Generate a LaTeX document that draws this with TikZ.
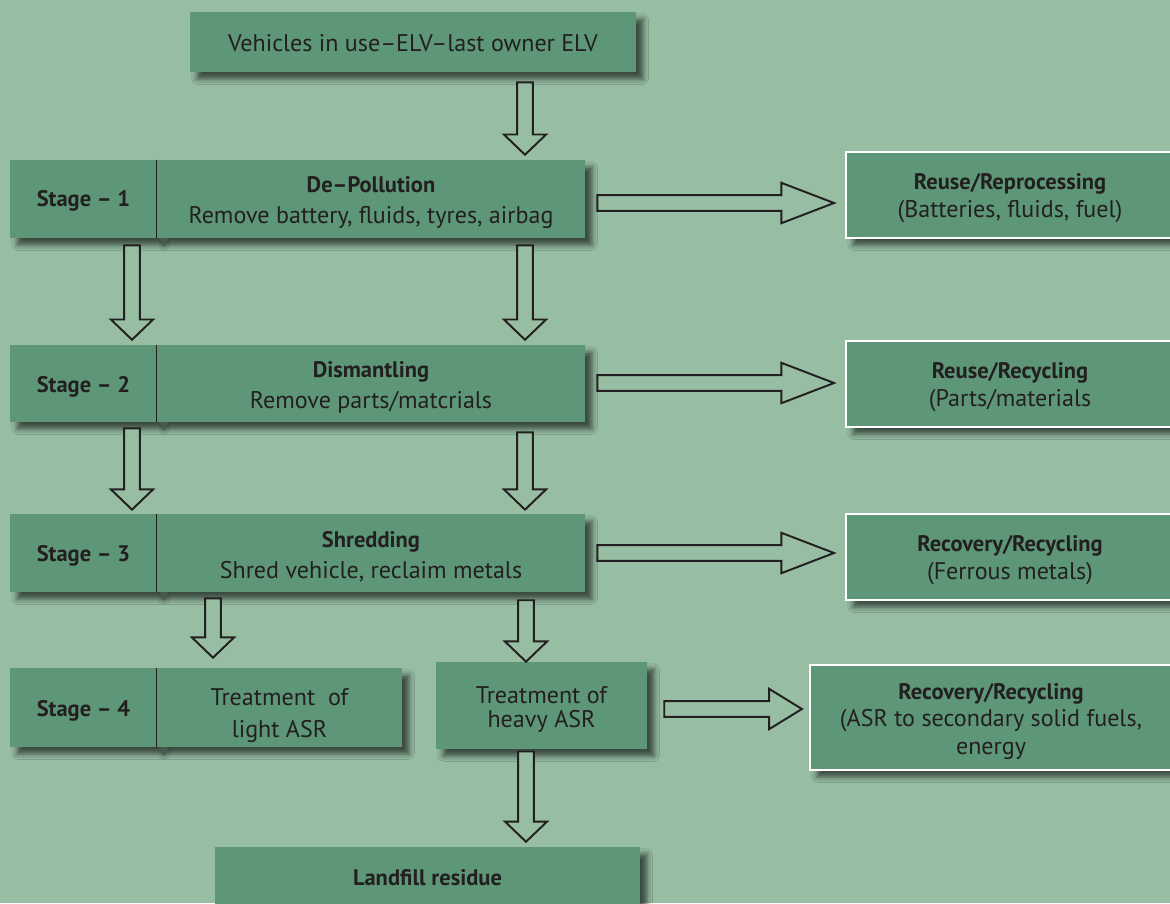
\documentclass[tikz,border=0pt]{standalone}
\usepackage{fontspec}
\setmainfont{PT Sans}
\usetikzlibrary{calc,shadows.blur}
\definecolor{bg}{RGB}{151,189,163}
\definecolor{boxg}{RGB}{93,151,119}
\definecolor{ink}{RGB}{35,31,32}
\newcommand\hd[1]{{\bfseries\fontsize{12.8}{17.5}\selectfont #1}}
\tikzset{
  box/.style={fill=boxg, inner sep=0pt,
    blur shadow={shadow xshift=4pt, shadow yshift=-4pt, shadow blur radius=3pt, shadow opacity=60}},
  rbox/.style={box, draw=white, line width=1.2pt},
  lbl/.style={text=ink, inner sep=0pt, align=center,
    font=\fontsize{13.7}{17.5}\selectfont},
  barrow/.style={draw=ink, line width=1.1pt, line join=miter, fill=bg},
  divider/.style={draw=ink, line width=0.6pt},
}
% \pbox[style]{name}{x1}{y1}{x2}{y2}{text y offset px}{text}  (pixel coordinates)
\newcommand\pbox[8][box]{%
  \node[#1, minimum width={(#5-#3)*0.02cm}, minimum height={(#6-#4)*0.02cm}]
    (#2) at ({(#3+#5)/2},{(#4+#6)/2}) {};
  \node[lbl] (#2t) at ($(#2.center)+(0,#7)$) {#8};}
% vertical block arrow: from node #1 to node #2 at x=#3 px, gaps #4 #5
\newcommand\varrowblk[5]{%
  \draw[barrow] let \p1=(#1.south), \p2=(#2.north), \p3=(#3,0) in
    (\x3-4.5pt,\y1-#4) -- (\x3+4.5pt,\y1-#4) -- (\x3+4.5pt,\y2+#5+11.5pt)
    -- (\x3+12pt,\y2+#5+11.5pt) -- (\x3,\y2+#5) -- (\x3-12pt,\y2+#5+11.5pt)
    -- (\x3-4.5pt,\y2+#5+11.5pt) -- cycle;}
% horizontal block arrow: from node #1 to node #2 at y=#3 px, gaps #4 #5, head length #6
\newcommand\harrowblk[6]{%
  \draw[barrow] let \p1=(#1.east), \p2=(#2.west), \p3=(0,#3) in
    (\x1+#4,\y3+4.5pt) -- (\x2-#5-#6,\y3+4.5pt) -- (\x2-#5-#6,\y3+11.5pt)
    -- (\x2-#5,\y3) -- (\x2-#5-#6,\y3-11.5pt) -- (\x2-#5-#6,\y3-4.5pt)
    -- (\x1+#4,\y3-4.5pt) -- cycle;}
\begin{document}
\begin{tikzpicture}[x=0.02cm,y=-0.02cm]
\fill[bg] (0,0) rectangle (1170,903);
\useasboundingbox (0,0) rectangle (1170,903);
\clip (0,0) rectangle (1170,903);

\pbox{top}{190}{12}{636}{72}{1.5}{Vehicles in use–ELV–last owner ELV}

\pbox{st1}{10}{160}{157}{238}{2}{\hd{Stage – 1}}
\pbox{p1}{157}{160}{585}{238}{3.5}{\hd{De–Pollution}\\Remove battery, fluids, tyres, airbag}
\draw[divider] (p1.north west) -- (p1.south west);

\pbox{st2}{10}{345}{157}{422}{3}{\hd{Stage – 2}}
\pbox{p2}{157}{345}{585}{422}{4}{\hd{Dismantling}\\Remove parts/matcrials}
\draw[divider] (p2.north west) -- (p2.south west);

\pbox{st3}{10}{514}{157}{592}{3}{\hd{Stage – 3}}
\pbox{p3}{157}{514}{585}{592}{3.5}{\hd{Shredding}\\Shred vehicle, reclaim metals}
\draw[divider] (p3.north west) -- (p3.south west);

\pbox{st4}{10}{668}{157}{747}{3}{\hd{Stage – 4}}
\pbox{p4}{157}{668}{402}{747}{8}{Treatment\ \ of\\[1pt]light ASR}
\draw[divider] (p4.north west) -- (p4.south west);

\pbox{heavy}{436}{662}{647}{749}{4}{Treatment of\\[-4pt]heavy ASR}
\pbox{land}{215}{847}{640}{907}{1}{\hd{Landfill residue}}

\pbox[rbox]{r1}{846}{152}{1174}{238}{3.5}{\hd{Reuse/Reprocessing}\\[-1.7pt](Batteries, fluids, fuel)}
\pbox[rbox]{r2}{846}{341}{1174}{427}{3.5}{\hd{Reuse/Recycling}\\[-1.7pt](Parts/materials}
\pbox[rbox]{r3}{846}{514}{1174}{600}{3.5}{\hd{Recovery/Recycling}\\[-1.7pt](Ferrous metals)}
\pbox[rbox]{r4}{810}{665}{1172}{770}{4}{\hd{Recovery/Recycling}\\[-1.7pt](ASR to secondary solid fuels,\\[-1.7pt]energy}

\varrowblk{top}{p1}{525}{5.7pt}{2.8pt}
\varrowblk{st1}{st2}{132}{4pt}{2.8pt}
\varrowblk{p1}{p2}{525}{4pt}{2.8pt}
\varrowblk{st2}{st3}{132}{3.4pt}{2.3pt}
\varrowblk{p2}{p3}{525}{5.7pt}{2.3pt}
\varrowblk{p3}{st4}{213}{3.4pt}{5.7pt}
\varrowblk{p3}{heavy}{526}{4.5pt}{0pt}
\varrowblk{heavy}{land}{526}{1.2pt}{2.8pt}

\harrowblk{p1}{r1}{203}{6.8pt}{6.2pt}{30pt}
\harrowblk{p2}{r2}{383}{6.8pt}{6.2pt}{30pt}
\harrowblk{p3}{r3}{553}{6.8pt}{6.2pt}{30pt}
\harrowblk{heavy}{r4}{709}{9.6pt}{4pt}{18.7pt}
\end{tikzpicture}
\end{document}
